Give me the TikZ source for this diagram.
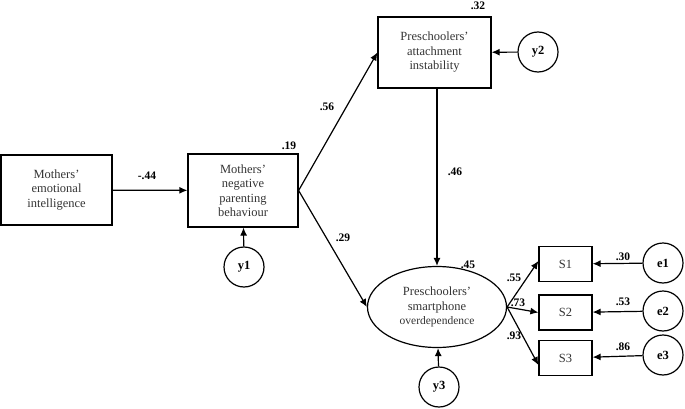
\documentclass[tikz,border=0pt]{standalone}
\usepackage{fontspec}
\setmainfont{Liberation Serif}
\usetikzlibrary{arrows.meta,shapes.geometric}
\begin{document}
\begin{tikzpicture}[x=1pt,y=-1pt,
  box/.style={draw,line width=1.2pt,align=center,inner sep=0pt,font=\fontsize{12.5}{14.5}\selectfont,text=black!80},
  err/.style={draw,circle,line width=1.2pt,minimum size=40pt,inner sep=0pt,font=\bfseries\fontsize{12.5}{13}\selectfont},
  lat/.style={draw,ellipse,line width=1.2pt,minimum width=139pt,minimum height=81pt,inner sep=0pt,align=center,font=\fontsize{12.5}{14.5}\selectfont,text=black!80},
  coef/.style={font=\bfseries\fontsize{11.5}{12}\selectfont,inner sep=0pt},
  arr/.style={-{Latex[length=8pt,width=7pt]},line width=1.2pt}]
\useasboundingbox (0,0) rectangle (685,409);
\node[box,minimum width=111pt,minimum height=70pt] (mei) at (56.5,190) {Mothers'\\emotional\\intelligence};
\node[box,minimum width=110pt,minimum height=73pt] (mnp) at (243,190.5) {Mothers'\\negative\\parenting\\behaviour};
\node[box,minimum width=113pt,minimum height=71pt] (pai) at (434.5,52.5) {Preschoolers'\\attachment\\instability};
\node[lat] (pso) at (437,307) {Preschoolers'\\smartphone\\{\fontsize{11.5}{14.5}\selectfont overdependence}};
\node[box,minimum width=53pt,minimum height=35pt] (s1) at (565.5,264) {S1};
\node[box,minimum width=53pt,minimum height=35pt] (s2) at (565.5,312.5) {S2};
\node[box,minimum width=53pt,minimum height=35pt] (s3) at (565.5,358) {S3};
\node[err] (e1) at (663,263) {e1};
\node[err] (e2) at (663,311) {e2};
\node[err] (e3) at (663,355) {e3};
\node[err] (y1) at (244,267) {y1};
\node[err] (y2) at (538,52) {y2};
\node[err] (y3) at (439,387) {y3};
\draw[arr] (mei) -- (mnp);
\draw[arr] (mnp.east) -- (pai.west);
\draw[arr] (mnp.east) -- (pso.west);
\draw[arr] (pai.south -| pso.north) -- (pso.north);
\draw[arr] (y1) -- (mnp);
\draw[arr] (y2) -- (pai);
\draw[arr] (y3) -- (pso);
\draw[arr] (pso.east) -- ([yshift=3pt]s1.west);
\draw[arr] (pso.east) -- (s2.west);
\draw[arr] (pso.east) -- ([yshift=-7pt]s3.west);
\draw[arr] (e1) -- (s1);
\draw[arr] (e2) -- (s2);
\draw[arr] (e3) -- (s3);
\node[coef] (c1) at (147,176) {-.44};
\node[coef] (c2) at (289,146) {.19};
\node[coef] (c3) at (478,6) {.32};
\node[coef] (c4) at (327,107) {.56};
\node[coef] (c5) at (455,172) {.46};
\node[coef] (c6) at (343,238) {.29};
\node[coef] (c7) at (468,265) {.45};
\node[coef] (c8) at (514,278) {.55};
\node[coef] (c9) at (518,303) {.73};
\node[coef] (c10) at (514,336) {.93};
\node[coef] (c11) at (623,257) {.30};
\node[coef] (c12) at (623,302) {.53};
\node[coef] (c13) at (623,347) {.86};
\end{tikzpicture}
\end{document}
